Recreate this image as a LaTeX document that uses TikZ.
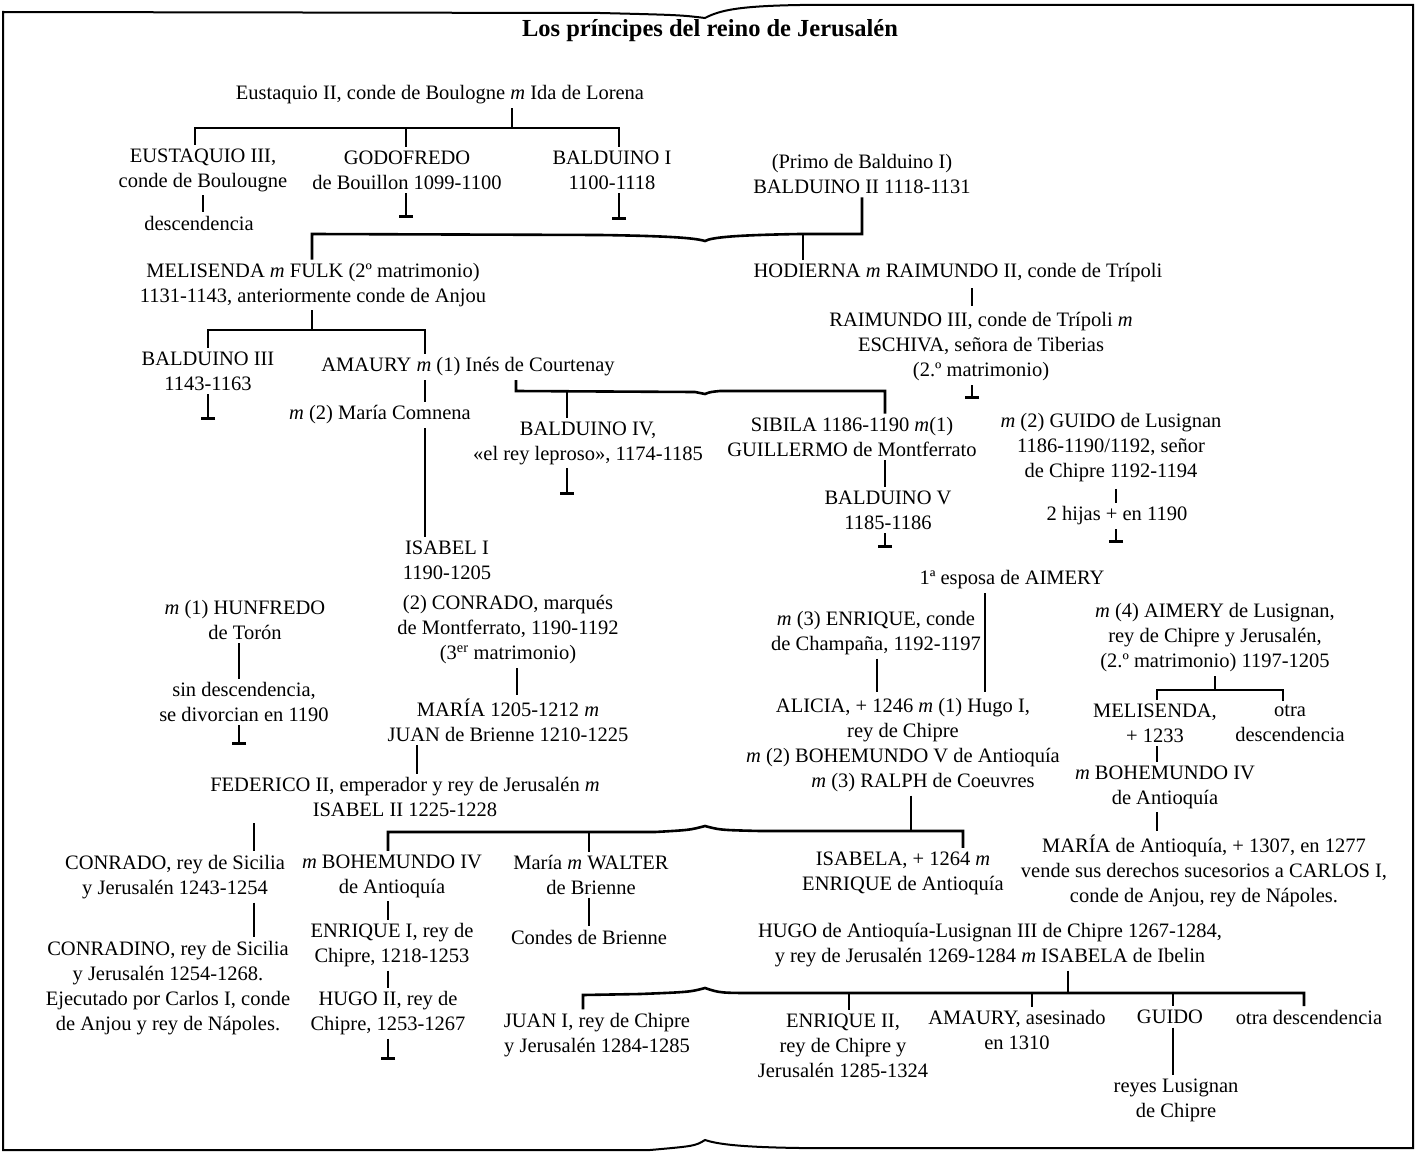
\documentclass[tikz,border=0pt]{standalone}
\usepackage{fontspec}
\setmainfont{Liberation Serif}
\usetikzlibrary{arrows.meta}
\begin{document}
\begin{tikzpicture}[x=1pt,y=-1pt,
  txt/.style={align=center,inner sep=3.5pt,font=\fontsize{20.5}{25}\selectfont},
  ttl/.style={inner sep=0pt,font=\fontsize{24.5}{28}\selectfont\bfseries},
  conn/.style={line width=2.2pt},
  bar/.style={line width=2.6pt,line join=miter},
  term/.style={line width=2.2pt,-{Bar[width=14pt,line width=2.6pt]}},
  frame/.style={line width=2pt}]
\useasboundingbox (0,0) rectangle (1415,1153);
\fill[white] (0,0) rectangle (1415,1153);
% frame
\draw[frame] (3,1150) -- (3,12) -- (600,13) .. controls (680,15) .. (705,18)
  .. controls (720,10) and (740,6) .. (800,5) -- (1413,5) -- (1413,1148)
  -- (800,1148) .. controls (730,1147) and (715,1143) .. (705,1140)
  .. controls (695,1146) .. (650,1150) -- cycle;
% nodes
\node[ttl] (title) at (710,31) {Los príncipes del reino de Jerusalén};
\node[txt] (eus2) at (440,95) {Eustaquio II, conde de Boulogne \textit{m} Ida de Lorena};
\node[txt] (eus3) at (203,170) {EUSTAQUIO III,\\conde de Boulougne};
\node[txt] (godo) at (407,170) {GODOFREDO\\de Bouillon 1099-1100};
\node[txt] (bal1) at (612,170) {BALDUINO I\\1100-1118};
\node[txt] (bal2) at (862,174) {(Primo de Balduino I)\\BALDUINO II 1118-1131};
\node[txt] (desc1) at (199,223) {descendencia};
\node[txt] (meli) at (313,285) {MELISENDA \textit{m} FULK (2º matrimonio)\\1131-1143, anteriormente conde de Anjou};
\node[txt] (hodi) at (958,273) {HODIERNA \textit{m} RAIMUNDO II, conde de Trípoli};
\node[txt] (ray3) at (981,347) {RAIMUNDO III, conde de Trípoli \textit{m}\\ESCHIVA, señora de Tiberias\\(2.º matrimonio)};
\node[txt] (bal3) at (208,371) {BALDUINO III\\1143-1163};
\node[txt] (amau) at (468,367) {AMAURY \textit{m} (1) Inés de Courtenay};
\node[txt] (comn) at (380,415) {\textit{m} (2) María Comnena};
\node[txt] (bal4) at (588,443) {BALDUINO IV,\\«el rey leproso», 1174-1185};
\node[txt] (sibi) at (852,437) {SIBILA 1186-1190 \textit{m}(1)\\GUILLERMO de Montferrato};
\node[txt] (guid) at (1111,448) {\textit{m} (2) GUIDO de Lusignan\\1186-1190/1192, señor\\de Chipre 1192-1194};
\node[txt] (bal5) at (888,510) {BALDUINO V\\1185-1186};
\node[txt] (hijas) at (1117,516) {2 hijas + en 1190};
\node[txt] (isa1) at (447,560) {ISABEL I\\1190-1205};
\node[txt] (conr) at (508,630) {(2) CONRADO, marqués\\de Montferrato, 1190-1192\\(3\textsuperscript{er} matrimonio)};
\node[txt] (hunf) at (245,620) {\textit{m} (1) HUNFREDO\\de Torón};
\node[txt] (sind) at (244,702) {sin descendencia,\\se divorcian en 1190};
\node[txt] (mari) at (508,720) {MARÍA 1205-1212 \textit{m}\\JUAN de Brienne 1210-1225};
\node[txt] (fede) at (405,797) {FEDERICO II, emperador y rey de Jerusalén \textit{m}\\ISABEL II 1225-1228};
\node[txt] (espo) at (1012,580) {1ª esposa de AIMERY};
\node[txt] (enrq) at (876,633) {\textit{m} (3) ENRIQUE, conde\\de Champaña, 1192-1197};
\node[txt] (alic) at (903,745) {ALICIA, + 1246 \textit{m} (1) Hugo I,\\rey de Chipre\\\textit{m} (2) BOHEMUNDO V de Antioquía\\\hspace*{40pt}\textit{m} (3) RALPH de Coeuvres};
\node[txt] (aime) at (1215,638) {\textit{m} (4) AIMERY de Lusignan,\\rey de Chipre y Jerusalén,\\(2.º matrimonio) 1197-1205};
\node[txt] (meli2) at (1155,723) {MELISENDA,\\+ 1233};
\node[txt] (otra1) at (1290,723) {otra\\descendencia};
\node[txt] (bohea) at (1165,787) {\textit{m} BOHEMUNDO IV\\de Antioquía};
\node[txt] (mara) at (1204,871) {MARÍA de Antioquía, + 1307, en 1277\\vende sus derechos sucesorios a CARLOS I,\\conde de Anjou, rey de Nápoles.};
\node[txt] (conr2) at (175,877) {CONRADO, rey de Sicilia\\y Jerusalén 1243-1254};
\node[txt] (conrd) at (168,988) {CONRADINO, rey de Sicilia\\y Jerusalén 1254-1268.\\Ejecutado por Carlos I, conde\\de Anjou y rey de Nápoles.};
\node[txt] (boheb) at (392,876) {\textit{m} BOHEMUNDO IV\\de Antioquía};
\node[txt] (enr1) at (392,945) {ENRIQUE I, rey de\\Chipre, 1218-1253};
\node[txt] (hugo2) at (388,1013) {HUGO II, rey de\\Chipre, 1253-1267};
\node[txt] (walt) at (591,875) {María \textit{m} WALTER\\de Brienne};
\node[txt] (cond) at (589,937) {Condes de Brienne};
\node[txt] (isab) at (903,873) {ISABELA, + 1264 \textit{m}\\ENRIQUE de Antioquía};
\node[txt] (hugo3) at (990,945) {HUGO de Antioquía-Lusignan III de Chipre 1267-1284,\\y rey de Jerusalén 1269-1284 \textit{m} ISABELA de Ibelin};
\node[txt] (juan1) at (597,1035) {JUAN I, rey de Chipre\\y Jerusalén 1284-1285};
\node[txt] (enr2) at (843,1046) {ENRIQUE II,\\rey de Chipre y\\Jerusalén 1285-1324};
\node[txt] (amau2) at (1017,1030) {AMAURY, asesinado\\en 1310};
\node[txt] (guido) at (1170,1017) {GUIDO};
\node[txt] (reyes) at (1176,1100) {reyes Lusignan\\de Chipre};
\node[txt] (otra2) at (1309,1017) {otra descendencia};
% coordinates
\coordinate (c0) at (203,200);
\coordinate (c1) at (512,128);
\coordinate (d1a) at (195,128);
\coordinate (d1b) at (406,128);
\coordinate (d1c) at (619,128);
\coordinate (t1) at (406,218);
\coordinate (t2) at (619,220);
\coordinate (c2) at (862,234);
\coordinate (d2a) at (312,234);
\coordinate (d2b) at (803,234);
\coordinate (c3) at (312,330);
\coordinate (d3a) at (208,330);
\coordinate (d3b) at (425,330);
\coordinate (c4) at (972,300);
\coordinate (t3) at (972,399);
\coordinate (t4) at (208,420);
\coordinate (c5) at (516,391);
\coordinate (d5a) at (567,391);
\coordinate (d5b) at (885,391);
\coordinate (t5) at (567,495);
\coordinate (t6) at (885,548);
\coordinate (c7) at (1116,500);
\coordinate (t7) at (1116,543);
\coordinate (c8) at (239,660);
\coordinate (t8) at (239,745);
\coordinate (c9) at (517,670);
\coordinate (c10) at (417,760);
\coordinate (c11) at (254,840);
\coordinate (c6) at (911,831);
\coordinate (d6a) at (388,832);
\coordinate (d6b) at (589,832);
\coordinate (d6c) at (963,831);
\coordinate (t9) at (388,1060);
\coordinate (c12) at (985,640);
\coordinate (c13) at (877,670);
\coordinate (c14) at (1215,690);
\coordinate (d14a) at (1157,690);
\coordinate (d14b) at (1283,690);
\coordinate (c15) at (1068,993);
\coordinate (d15a) at (583,995);
\coordinate (d15b) at (849,993);
\coordinate (d15c) at (1032,993);
\coordinate (d15d) at (1173,993);
\coordinate (d15e) at (1304,993);
% connectors
\draw[conn] (eus2.south -| c1) -- (c1);
\draw[bar] (d1a |- eus3.north) -- (d1a) -- (d1c) -- (d1c |- bal1.north);
\draw[conn] (d1b) -- (d1b |- godo.north);
\draw[conn] (eus3.south -| c0) -- (c0 |- desc1.north);
\draw[term] (t1 |- godo.south) -- (t1);
\draw[term] (t2 |- bal1.south) -- (t2);
\draw[bar] (d2a |- meli.north) -- (d2a) -- (600,235) .. controls (670,236) and (695,238) .. (705,241)
  .. controls (712,237) and (740,235) .. (800,234) -- (c2) -- (c2 |- bal2.south);
\draw[conn] (d2b) -- (d2b |- hodi.north);
\draw[conn] (meli.south -| c3) -- (c3);
\draw[bar] (d3a |- bal3.north) -- (d3a) -- (d3b) -- (d3b |- amau.north);
\draw[conn,shorten <=2pt,shorten >=3pt] (c4 |- hodi.south) -- (c4 |- ray3.north);
\draw[term] (ray3.south -| t3) -- (t3);
\draw[term] (bal3.south -| t4) -- (t4);
\draw[conn] (d3b |- amau.south) -- (d3b |- comn.north);
\draw[conn] (d3b |- comn.south) -- (d3b |- isa1.north);
\draw[bar] (c5 |- amau.south) -- (c5) -- (695,392) .. controls (700,393) .. (705,394)
  .. controls (710,392) .. (720,391) -- (d5b) -- (d5b |- sibi.north);
\draw[conn] (d5a) -- (d5a |- bal4.north);
\draw[term] (bal4.south -| t5) -- (t5);
\draw[conn] (sibi.south -| d5b) -- (d5b |- bal5.north);
\draw[term] (bal5.south -| t6) -- (t6);
\draw[conn,shorten <=3pt] (guid.south -| c7) -- (c7 |- hijas.north);
\draw[term] (hijas.south -| t7) -- (t7);
\draw[conn] (hunf.south -| c8) -- (c8 |- sind.north);
\draw[term] (sind.south -| t8) -- (t8);
\draw[conn] (conr.south -| c9) -- (c9 |- mari.north);
\draw[conn] (mari.south -| c10) -- (c10 |- fede.north);
\draw[conn,shorten <=3pt] (fede.south -| c11) -- (c11 |- conr2.north);
\draw[conn] (alic.south -| c6) -- (c6);
\draw[bar] (d6a |- boheb.north) -- (d6a) -- (655,832) .. controls (690,830) .. (705,826)
  .. controls (720,830) .. (760,831) -- (d6c) -- (d6c |- isab.north);
\draw[conn] (d6b) -- (d6b |- walt.north);
\draw[conn] (conr2.south -| c11) -- (c11 |- conrd.north);
\draw[conn] (boheb.south -| d6a) -- (d6a |- enr1.north);
\draw[conn] (enr1.south -| d6a) -- (d6a |- hugo2.north);
\draw[term] (hugo2.south -| t9) -- (t9);
\draw[conn] (walt.south -| d6b) -- (d6b |- cond.north);
\draw[conn,shorten >=3pt] (espo.south -| c12) -- (c12 |- alic.north);
\draw[conn,shorten >=3pt] (enrq.south -| c13) -- (c13 |- alic.north);
\draw[conn] (aime.south -| c14) -- (c14);
\draw[bar] (d14a |- meli2.north) -- (d14a) -- (d14b) -- (d14b |- otra1.north);
\draw[conn] (meli2.south -| d14a) -- (d14a |- bohea.north);
\draw[conn] (bohea.south -| d14a) -- (d14a |- mara.north);
\draw[conn] (hugo3.south -| c15) -- (c15);
\draw[bar] (d15a |- juan1.north) -- (d15a) -- (640,994) .. controls (690,992) .. (705,988)
  .. controls (720,993) .. (760,993) -- (d15e) -- (d15e |- otra2.north);
\draw[conn] (d15b) -- (d15b |- enr2.north);
\draw[conn] (d15c) -- (d15c |- amau2.north);
\draw[conn] (d15d) -- (d15d |- guido.north);
\draw[conn] (guido.south -| d15d) -- (d15d |- reyes.north);
\end{tikzpicture}
\end{document}
